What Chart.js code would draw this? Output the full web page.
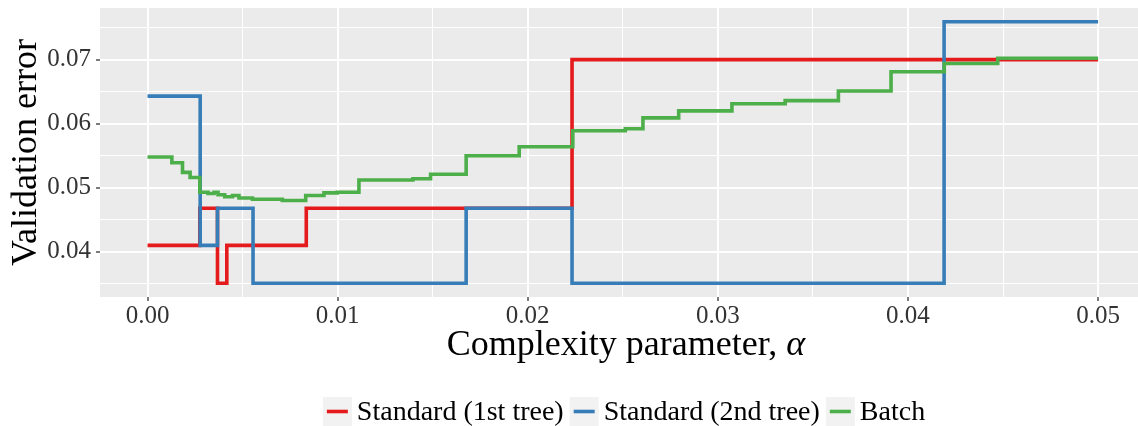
<!DOCTYPE html>
<html>
<head>
<meta charset="utf-8">
<script src="https://cdn.jsdelivr.net/npm/chart.js@4"></script>
<style>
  html, body { margin: 0; padding: 0; background: #fff; }
</style>
</head>
<body>
<canvas id="myChart" width="1138" height="426"></canvas>
<script>
const seriesLabels = ["Standard (1st tree)", "Standard (2nd tree)", "Batch"];
const seriesColors = ["#E41A1C", "#377EB8", "#4DAF4A"];

// each pair: alpha where a level starts, and the validation error on it
const standard1Alpha = [0, 0.00275, 0.00368, 0.00417, 0.00835, 0.02233, 0.05];
const standard1Error = [0.041, 0.0468, 0.0351, 0.041, 0.0468, 0.0700, 0.0700];

const standard2Alpha = [0, 0.00277, 0.00368, 0.00555, 0.01676, 0.02233, 0.0419, 0.05];
const standard2Error = [0.0643, 0.041, 0.0468, 0.0351, 0.0468, 0.0351, 0.0759, 0.0759];

const batchAlpha = [0, 0.00128, 0.00184, 0.00224, 0.00275, 0.00318, 0.0035, 0.00371,
  0.00406, 0.00447, 0.00481, 0.00552, 0.00709, 0.00832, 0.00928, 0.00998, 0.01112,
  0.01396, 0.01489, 0.01676, 0.01955, 0.02237, 0.02513, 0.02606, 0.02794, 0.03074,
  0.03354, 0.03634, 0.03911, 0.04191, 0.04472, 0.05];
const batchError = [0.0548, 0.0539, 0.0524, 0.0516, 0.0493, 0.0491, 0.0493, 0.0489,
  0.0486, 0.0488, 0.0484, 0.0482, 0.0480, 0.0488, 0.0492, 0.0493, 0.0512,
  0.0514, 0.0521, 0.0550, 0.0564, 0.0589, 0.0592, 0.0609, 0.0620, 0.0631,
  0.0636, 0.0651, 0.0681, 0.0694, 0.0702, 0.0702];

// gridline positions (major ones get labels)
const xTickValues = [0, 0.005, 0.01, 0.015, 0.02, 0.025, 0.03, 0.035, 0.04, 0.045, 0.05];
const yTickValues = [0.035, 0.04, 0.045, 0.05, 0.055, 0.06, 0.065, 0.07, 0.075];

const serif = "'Liberation Serif', 'DejaVu Serif', serif";

function isMajor(v) {
  return Math.abs(v * 100 - Math.round(v * 100)) < 1e-6;
}

function toPoints(xs, ys) {
  return xs.map((x, i) => ({ x: x, y: ys[i] }));
}

function stepSet(i, xs, ys) {
  return {
    label: seriesLabels[i],
    data: toPoints(xs, ys),
    borderColor: seriesColors[i],
    backgroundColor: seriesColors[i],
    borderWidth: 3.6,
    pointRadius: 0,
    stepped: true,
    fill: false,
    order: 3 - i,
  };
}

const panelPlugin = {
  id: "panel",
  beforeDraw(chart) {
    const { ctx, chartArea: a } = chart;
    ctx.save();
    ctx.fillStyle = "#ffffff";
    ctx.fillRect(0, 0, chart.width, chart.height);
    ctx.fillStyle = "#EBEBEB";
    ctx.fillRect(a.left, a.top, a.right - a.left, a.bottom - a.top);
    ctx.restore();
  },
  afterDraw(chart) {
    const ctx = chart.ctx;
    ctx.save();

    // x axis title, alpha set in italic
    const t1 = "Complexity parameter, ";
    const t2 = "\u03B1";
    ctx.fillStyle = "#000";
    ctx.textBaseline = "alphabetic";
    ctx.font = "36px " + serif;
    const w1 = ctx.measureText(t1).width;
    ctx.font = "italic 36px " + serif;
    const w2 = ctx.measureText(t2).width;
    let tx = 626 - (w1 + w2) / 2;
    ctx.font = "36px " + serif;
    ctx.fillText(t1, tx, 355);
    ctx.font = "italic 36px " + serif;
    ctx.fillText(t2, tx + w1, 355);

    // legend along the bottom
    ctx.font = "28px " + serif;
    const keyW = 29, keyGap = 5, itemGap = 6;
    const widths = chart.data.datasets.map(d => ctx.measureText(d.label).width);
    let total = 0;
    widths.forEach((w, i) => { total += keyW + keyGap + w + (i < widths.length - 1 ? itemGap : 0); });
    let x = 624 - total / 2;
    chart.data.datasets.forEach((d, i) => {
      ctx.fillStyle = "#F2F2F2";
      ctx.fillRect(x, 397, keyW, 30);
      ctx.strokeStyle = d.borderColor;
      ctx.lineWidth = 3.6;
      ctx.beginPath();
      ctx.moveTo(x + 4, 411.5);
      ctx.lineTo(x + keyW - 4, 411.5);
      ctx.stroke();
      ctx.fillStyle = "#000";
      ctx.fillText(d.label, x + keyW + keyGap, 420);
      x += keyW + keyGap + widths[i] + itemGap;
    });
    ctx.restore();
  },
};

const gridOpts = {
  color: "#ffffff",
  lineWidth: (c) => (c.tick && isMajor(c.tick.value) ? 2 : 1),
  tickColor: (c) => (c.tick && isMajor(c.tick.value) ? "#333333" : "rgba(0,0,0,0)"),
  tickLength: 4,
  tickWidth: 1.3,
  drawTicks: true,
};

const config = {
  type: "line",
  data: {
    datasets: [
      stepSet(0, standard1Alpha, standard1Error),
      stepSet(1, standard2Alpha, standard2Error),
      stepSet(2, batchAlpha, batchError),
    ],
  },
  options: {
    responsive: false,
    animation: false,
    devicePixelRatio: 1,
    layout: { padding: { top: 8, left: 0, right: 0, bottom: 79 } },
    plugins: {
      legend: { display: false },
      tooltip: { enabled: false },
    },
    scales: {
      x: {
        type: "linear",
        min: -0.0025,
        max: 0.0521,
        border: { display: false },
        grid: gridOpts,
        afterBuildTicks: (axis) => { axis.ticks = xTickValues.map(v => ({ value: v })); },
        afterFit: (axis) => {
          axis.height = 50;
          axis.paddingLeft = 0;
          axis.paddingRight = 0;
        },
        ticks: {
          autoSkip: false,
          maxRotation: 0,
          padding: 0,
          color: "#333333",
          font: { family: serif, size: 25 },
          callback: (v) => (isMajor(v) ? v.toFixed(2) : ""),
        },
      },
      y: {
        type: "linear",
        min: 0.03295,
        max: 0.07805,
        border: { display: false },
        grid: gridOpts,
        afterBuildTicks: (axis) => { axis.ticks = yTickValues.map(v => ({ value: v })); },
        afterFit: (axis) => {
          axis.width = 100;
          axis.paddingTop = 0;
          axis.paddingBottom = 0;
        },
        ticks: {
          autoSkip: false,
          padding: 5,
          color: "#333333",
          font: { family: serif, size: 25 },
          callback: (v) => (isMajor(v) ? v.toFixed(2) : ""),
        },
        title: {
          display: true,
          text: "Validation error",
          color: "#000",
          font: { family: serif, size: 36 },
          padding: { top: 5, bottom: 0 },
        },
      },
    },
  },
  plugins: [panelPlugin],
};

const myChart = new Chart(document.getElementById("myChart").getContext("2d"), config);
</script>
</body>
</html>
